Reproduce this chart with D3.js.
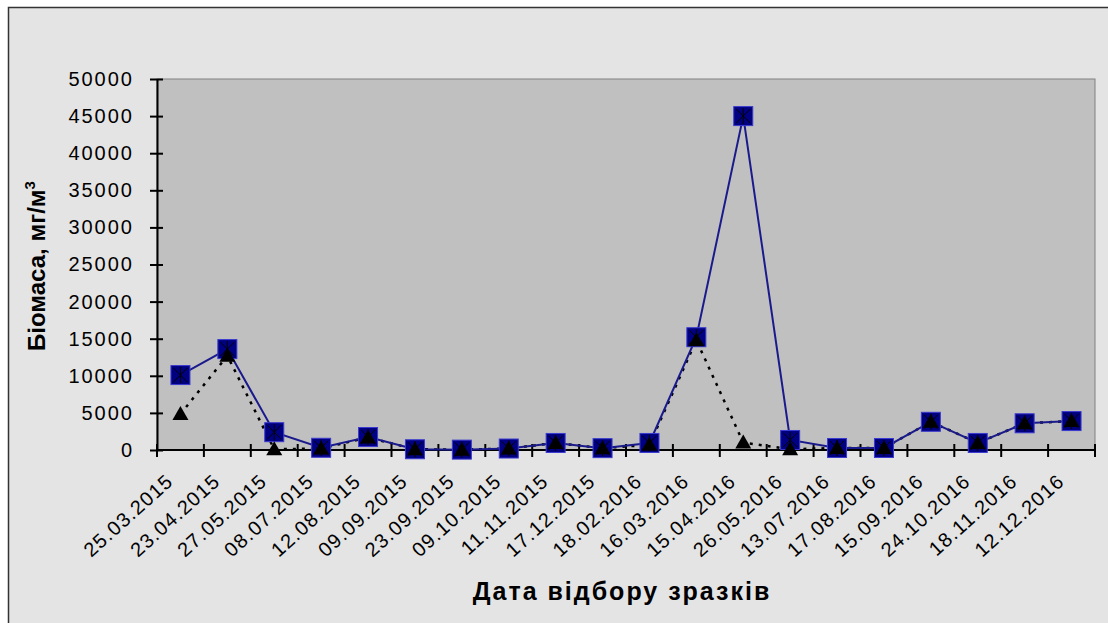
<!DOCTYPE html>
<html>
<head>
<meta charset="utf-8">
<script src="https://cdn.jsdelivr.net/npm/d3@7"></script>
<style>
  body { margin: 0; background: #fff; }
  svg { display: block; font-family: "Liberation Sans", Arial, sans-serif; }
</style>
</head>
<body>
<svg width="1108" height="623"></svg>
<script>
// sampling dates
var dates = ["25.03.2015", "23.04.2015", "27.05.2015", "08.07.2015", "12.08.2015",
  "09.09.2015", "23.09.2015", "09.10.2015", "11.11.2015", "17.12.2015",
  "18.02.2016", "16.03.2016", "15.04.2016", "26.05.2016", "13.07.2016",
  "17.08.2016", "15.09.2016", "24.10.2016", "18.11.2016", "12.12.2016"];

// total biomass (squares)
var total = [10100, 13600, 2400, 300, 1750, 100, 50, 200, 950, 250,
  950, 15200, 45000, 1350, 270, 270, 3800, 950, 3600, 3900];

// second series (triangles)
var part = [4850, 12700, 100, 200, 1700, 100, 50, 200, 950, 250,
  700, 14800, 1000, 100, 270, 270, 3800, 950, 3600, 3900];

var yTicks = [0, 5000, 10000, 15000, 20000, 25000, 30000, 35000, 40000, 45000, 50000];

var svg = d3.select("svg"),
    margin = {top: 79, right: 13, bottom: 173, left: 157},
    width = 1108 - margin.left - margin.right,
    height = 623 - margin.top - margin.bottom;

// background + outer frame
svg.append("rect").attr("x", 0).attr("y", 0).attr("width", 1108).attr("height", 623).attr("fill", "#fff");
svg.append("rect")
    .attr("x", 8.5).attr("y", 7.5).attr("width", 1110).attr("height", 630)
    .attr("fill", "#e4e4e4").attr("stroke", "#333").attr("stroke-width", 1.5);

var g = svg.append("g").attr("transform", "translate(" + margin.left + "," + margin.top + ")");

var x = d3.scaleBand().domain(dates).range([0, width]);
var y = d3.scaleLinear().domain([0, 50000]).range([height, 0]);

g.append("rect")
    .attr("width", width).attr("height", height)
    .attr("fill", "#c0c0c0").attr("stroke", "#808080");

// y axis
var yAxis = g.append("g")
    .call(d3.axisLeft(y).tickValues(yTicks).tickFormat(d3.format("d")).tickSize(0).tickPadding(23));
yAxis.select(".domain").attr("stroke", "#000").attr("stroke-width", 2);
yAxis.selectAll(".tick line").attr("x1", -7).attr("x2", 6).attr("stroke", "#000").attr("stroke-width", 2);
yAxis.selectAll(".tick text").attr("font-size", 20).attr("letter-spacing", 2).attr("fill", "#000")
    .attr("font-family", "Liberation Sans, Arial, sans-serif");

// x axis (ticks between categories)
var bounds = dates.map(function(d) { return x(d); }).concat([width]);
var xAxis = g.append("g").attr("transform", "translate(0," + height + ")");
xAxis.append("line").attr("x1", 0).attr("x2", width).attr("stroke", "#000").attr("stroke-width", 2);
xAxis.selectAll(".xt").data(bounds).enter().append("line")
    .attr("x1", function(d) { return d; }).attr("x2", function(d) { return d; })
    .attr("y1", -6).attr("y2", 7).attr("stroke", "#000").attr("stroke-width", 2);

xAxis.selectAll(".xl").data(dates).enter().append("text")
    .attr("transform", function(d) {
      return "translate(" + (x(d) + x.bandwidth() / 2 - 6) + ",33) rotate(-42)";
    })
    .attr("text-anchor", "end")
    .attr("font-size", 20)
    .attr("letter-spacing", 1.2)
    .attr("fill", "#000")
    .text(function(d) { return d; });

var cx = function(d, i) { return x(dates[i]) + x.bandwidth() / 2; };

// dotted black line + triangles
g.append("path")
    .datum(part)
    .attr("fill", "none").attr("stroke", "#000").attr("stroke-width", 2.5)
    .attr("stroke-dasharray", "3,6")
    .attr("d", d3.line().x(cx).y(function(d) { return y(d); }));

// blue line
g.append("path")
    .datum(total)
    .attr("fill", "none").attr("stroke", "#1a1a8c").attr("stroke-width", 2)
    .attr("d", d3.line().x(cx).y(function(d) { return y(d); }));

// squares
var sq = g.selectAll(".sq").data(total).enter().append("g")
    .attr("transform", function(d, i) { return "translate(" + cx(d, i) + "," + y(d) + ")"; });
sq.append("rect")
    .attr("x", -9.5).attr("y", -9.5).attr("width", 19).attr("height", 19)
    .attr("fill", "#000080").attr("stroke", "#3a3ad0").attr("stroke-width", 1);
sq.append("path")
    .attr("d", "M-7,-7L7,7M7,-7L-7,7M0,-8L0,8")
    .attr("stroke", "#000").attr("stroke-width", 1);

// triangles
g.selectAll(".tri").data(part).enter().append("path")
    .attr("transform", function(d, i) { return "translate(" + cx(d, i) + "," + y(d) + ")"; })
    .attr("d", "M0,-8L8,6L-8,6Z")
    .attr("fill", "#000");

// axis titles
svg.append("text")
    .attr("transform", "translate(45,266) rotate(-90)")
    .attr("text-anchor", "middle")
    .attr("font-size", 24).attr("font-weight", "bold").attr("fill", "#000")
    .text("Біомаса, мг/м")
  .append("tspan")
    .attr("dy", -10).attr("font-size", 15).text("3");

svg.append("text")
    .attr("x", 622).attr("y", 600)
    .attr("text-anchor", "middle")
    .attr("font-size", 25).attr("font-weight", "bold").attr("letter-spacing", 2).attr("fill", "#000")
    .text("Дата відбору зразків");
</script>
</body>
</html>
